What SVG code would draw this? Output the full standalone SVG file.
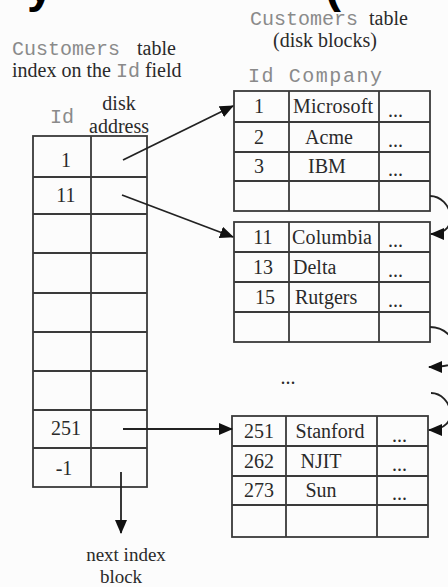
<svg xmlns="http://www.w3.org/2000/svg" width="448" height="587" viewBox="0 0 448 587">
<defs>
<style>
.bg{fill:#fcfcfc}
.cell{fill:none;stroke:#3a3a3a;stroke-width:1.8}
.mono{font-family:"Liberation Mono","Courier New",monospace;font-size:20px;fill:#8a8a8a}
.serif{font-family:"Liberation Serif","Times New Roman",serif;font-size:20px;fill:#2a2a2a}
.small{font-size:19px}
.mid{text-anchor:middle}
.title{font-family:"Liberation Sans",Arial,sans-serif;font-size:48px;font-weight:bold;fill:#000}
.con{fill:none;stroke:#222;stroke-width:1.8}
</style>
<marker id="ah" markerWidth="14" markerHeight="12" refX="13" refY="6" orient="auto" markerUnits="userSpaceOnUse">
<path d="M0,0 L14,6 L0,12 z" fill="#111"/>
</marker>
</defs>
<rect class="bg" x="0" y="0" width="448" height="587"/>
<g id="title-fragments">
<text class="title" x="27" y="2">y</text>
<text class="title" x="325" y="2">(</text>
</g>
<g id="index-header">
<text y="55"><tspan class="mono" x="12">Customers</tspan><tspan class="serif" x="137">table</tspan></text>
<text y="77"><tspan class="serif" x="12">index on the </tspan><tspan class="mono">Id</tspan><tspan class="serif"> field</tspan></text>
<text class="mono mid" x="62" y="123">Id</text>
<text class="serif mid" x="119" y="110">disk</text>
<text class="serif mid" x="119" y="133">address</text>
</g>
<g id="index-table">
<rect class="cell" x="33" y="136" width="114" height="351"/>
<path class="cell" d="M91,136 V487 M33,177 H147 M33,214 H147 M33,253 H147 M33,293 H147 M33,332 H147 M33,371 H147 M33,410 H147 M33,448 H147"/>
<text class="serif mid" x="66" y="167">1</text>
<text class="serif mid" x="66" y="202">11</text>
<text class="serif mid" x="66" y="435">251</text>
<text class="serif mid" x="64" y="475">-1</text>
</g>
<g id="data-header">
<text y="25"><tspan class="mono" x="250">Customers</tspan><tspan class="serif" x="369">table</tspan></text>
<text class="serif" x="273" y="47">(disk blocks)</text>
<text class="mono" x="248" y="82" textLength="134">Id Company</text>
</g>
<g id="block1">
<rect class="cell" x="234" y="91" width="196" height="120"/>
<path class="cell" d="M289,91 V211 M379,91 V211 M234,122 H430 M234,152 H430 M234,181 H430"/>
<text class="serif mid" x="259" y="113">1</text>
<text class="serif" x="293" y="113" textLength="80">Microsoft</text>
<text class="serif" x="388" y="117">...</text>
<text class="serif mid" x="259" y="144">2</text>
<text class="serif mid" x="329" y="144">Acme</text>
<text class="serif" x="388" y="147">...</text>
<text class="serif mid" x="259" y="173">3</text>
<text class="serif mid" x="327" y="173">IBM</text>
<text class="serif" x="388" y="176">...</text>
</g>
<g id="block2">
<rect class="cell" x="234" y="222" width="196" height="120"/>
<path class="cell" d="M289,222 V342 M379,222 V342 M234,252 H430 M234,282 H430 M234,312 H430"/>
<text class="serif mid" x="263" y="244">11</text>
<text class="serif" x="292" y="244" textLength="80">Columbia</text>
<text class="serif" x="388" y="247">...</text>
<text class="serif mid" x="263" y="274">13</text>
<text class="serif" x="293" y="274">Delta</text>
<text class="serif" x="388" y="277">...</text>
<text class="serif mid" x="265" y="304">15</text>
<text class="serif" x="295" y="304">Rutgers</text>
<text class="serif" x="388" y="307">...</text>
</g>
<g id="gap">
<text class="serif mid" x="288" y="384">...</text>
</g>
<g id="block3">
<rect class="cell" x="232" y="416" width="196" height="121"/>
<path class="cell" d="M286,416 V537 M377,416 V537 M232,446 H428 M232,476 H428 M232,505 H428"/>
<text class="serif mid" x="259" y="438">251</text>
<text class="serif mid" x="330" y="438">Stanford</text>
<text class="serif" x="392" y="442">...</text>
<text class="serif mid" x="259" y="468">262</text>
<text class="serif mid" x="321" y="468">NJIT</text>
<text class="serif" x="392" y="471">...</text>
<text class="serif mid" x="259" y="497">273</text>
<text class="serif mid" x="321" y="497">Sun</text>
<text class="serif" x="392" y="500">...</text>
</g>
<g id="footer">
<text class="serif small mid" x="126" y="561">next index</text>
<text class="serif small mid" x="121" y="583">block</text>
</g>
<g id="connectors">
<path class="con" d="M123,160 L233,106" marker-end="url(#ah)"/>
<path class="con" d="M122,195 L233,237" marker-end="url(#ah)"/>
<path class="con" d="M123,429 L232,429" marker-end="url(#ah)"/>
<path class="con" d="M121,472 L121,533" marker-end="url(#ah)"/>
<path class="con" d="M430,196 C452,196 462,234 431,234" marker-end="url(#ah)"/>
<path class="con" d="M430,327 C450,327 462,350 455,358"/>
<path class="con" d="M460,360 C455,364 445,367 429,367" marker-end="url(#ah)"/>
<path class="con" d="M431,393 C452,393 462,430 429,430" marker-end="url(#ah)"/>
</g>
</svg>
